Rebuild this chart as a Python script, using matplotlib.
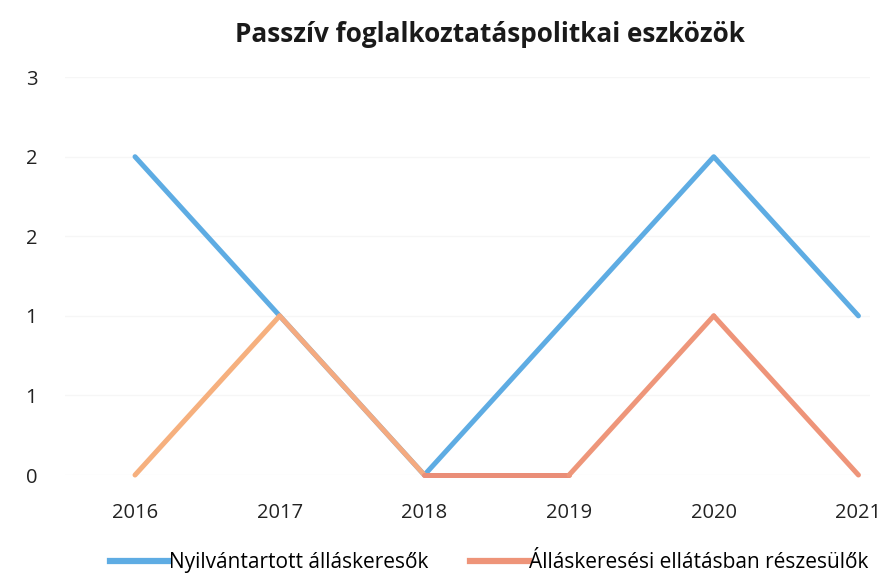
import matplotlib.pyplot as plt
from matplotlib.lines import Line2D

years = ['2016', '2017', '2018', '2019', '2020', '2021']
nyilvantartott = [2, 1, 0, 1, 2, 1]
ellatasban = [0, 1, 0, 0, 1, 0]
y_ticks = [0, 0.5, 1, 1.5, 2, 2.5]
y_labels = ['0', '1', '1', '2', '2', '3']

blue = '#5EACE3'
orange_segs = ['#F6B07E', '#F4AA80', '#EA8E78', '#EE967A', '#EE9479']

plt.rcParams['font.family'] = ['Open Sans', 'DejaVu Sans']

fig = plt.figure(figsize=(8.8, 5.8), dpi=100)
ax = fig.add_axes([65 / 880, 0.181, 805 / 880, 0.686])

x = list(range(len(years)))
ax.plot(x, nyilvantartott, color=blue, lw=3.6, solid_capstyle='round',
        solid_joinstyle='round', clip_on=False, zorder=2)
# orange series sits on top of the blue one
for i in range(len(x) - 1):
    ax.plot(x[i:i + 2], ellatasban[i:i + 2], color=orange_segs[i], lw=3.6,
            solid_capstyle='round', clip_on=False, zorder=3)

ax.set_xlim(-0.484, 5.08)
ax.set_ylim(0, 2.5)
ax.set_yticks(y_ticks)
ax.set_yticklabels(y_labels, fontsize=14.5, color='#222222')
ax.set_xticks(x)
ax.set_xticklabels(years, fontsize=14.5, color='#222222')
ax.tick_params(length=0)
ax.tick_params(axis='x', pad=20)
ax.tick_params(axis='y', pad=20)
ax.grid(axis='y', color='#f6f6f6', lw=1)
for s in ax.spines.values():
    s.set_visible(False)

fig.text(0.557, 0.94, 'Passzív foglalkoztatáspolitkai eszközök', fontsize=18.8,
         fontweight='bold', ha='center', va='center', color='#1a1a1a')

handles = [Line2D([], [], color=blue, lw=4.5),
           Line2D([], [], color='#EE9479', lw=4.5)]
fig.legend(handles, ['Nyilvántartott álláskeresők', 'Álláskeresési ellátásban részesülők'],
           loc='center', bbox_to_anchor=(0.556, 0.03), ncol=2, frameon=False,
           fontsize=15, handlelength=2.85, handletextpad=0.0, columnspacing=2.0,
           borderpad=0, borderaxespad=0)

fig.savefig('out.png', dpi=100)
